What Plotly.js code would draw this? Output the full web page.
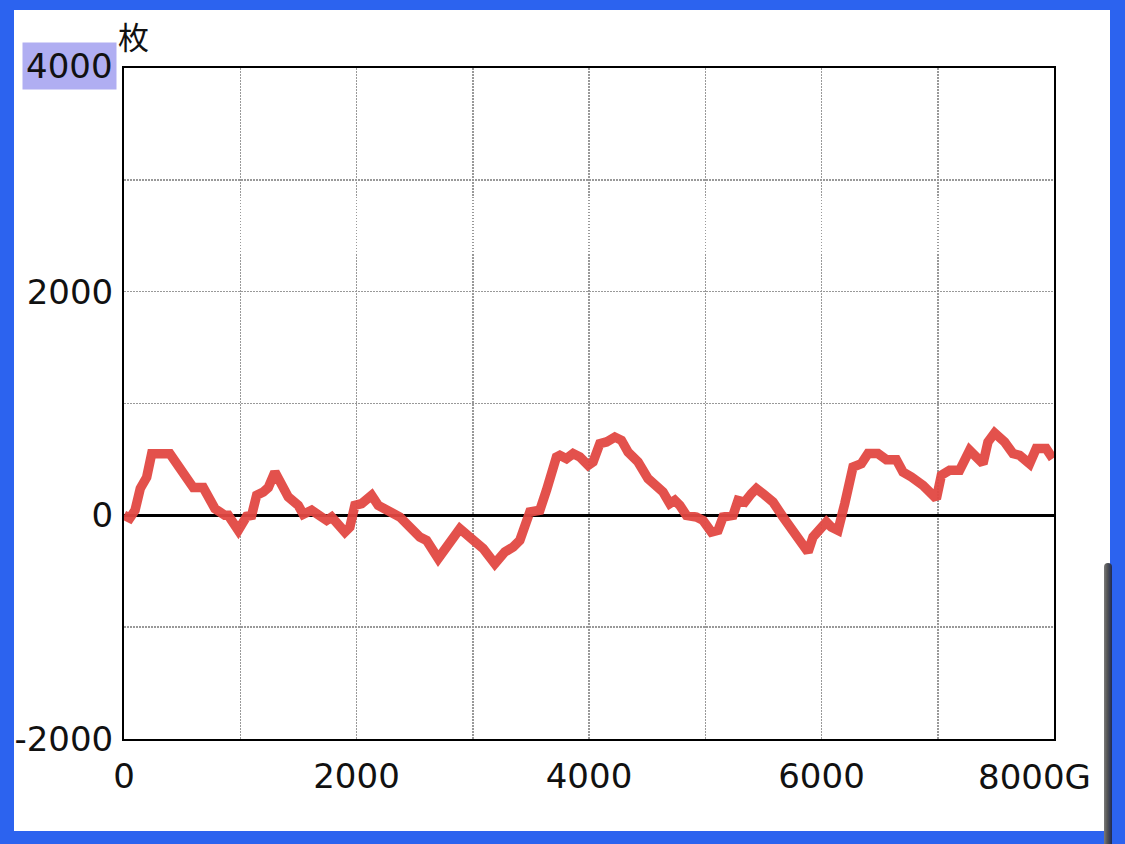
<!DOCTYPE html>
<html>
<head>
<meta charset="utf-8">
<script src="https://cdn.plot.ly/plotly-3.0.1.min.js"></script>
<style>
  html, body { margin: 0; padding: 0; width: 1125px; height: 844px; overflow: hidden; background: #2c63ef; }
  #frame { position: absolute; left: 14px; top: 10px; width: 1096px; height: 821px; background: #ffffff; overflow: hidden; }
  #chart { position: absolute; left: 0; top: 0; width: 1096px; height: 821px; }
  #scroll { position: absolute; left: 1104px; top: 563px; width: 8px; height: 290px; border-radius: 4px 4px 0 0;
            background: linear-gradient(to right, #7a7a7a 0%, #555 40%, #1e2a55 100%); }
</style>
</head>
<body>
<div id="frame"><div id="chart"></div></div>
<div id="scroll"></div>
<script>
// Cumulative difference (枚) vs games (G)
const games = [0, 50, 95, 140, 195, 238, 395, 467, 539, 596, 682, 782, 868, 897, 983, 1055, 1098, 1141, 1198, 1241,
  1298, 1356, 1413, 1499, 1542, 1614, 1685, 1743, 1786, 1829, 1900, 1943, 1986, 2044, 2130, 2187, 2273, 2373, 2545, 2603,
  2703, 2889, 2989, 3090, 3190, 3276, 3348, 3405, 3491, 3577, 3634, 3720, 3749, 3806, 3863, 3921, 3993, 4035, 4093, 4150,
  4222, 4279, 4336, 4422, 4508, 4637, 4695, 4738, 4781, 4838, 4924, 4981, 5053, 5110, 5153, 5239, 5282, 5340, 5397, 5440,
  5497, 5583, 5669, 5741, 5813, 5856, 5884, 5927, 5999, 6042, 6085, 6142, 6200, 6271, 6343, 6400, 6486, 6558, 6644, 6701,
  6773, 6873, 6988, 7031, 7102, 7188, 7274, 7389, 7432, 7489, 7575, 7647, 7704, 7790, 7847, 7933, 7990];
const coins = [0, -25, 45, 240, 340, 550, 550, 447, 358, 248, 248, 60, 0, 0, -134, -9, 0, 179, 208, 248,
  387, 268, 164, 89, 9, 45, 0, -45, -15, -74, -149, -105, 89, 105, 179, 89, 45, -15, -194, -224,
  -387, -119, -209, -298, -432, -328, -283, -224, 30, 45, 224, 522, 537, 507, 552, 522, 447, 477, 641, 656,
  700, 671, 566, 477, 328, 208, 105, 134, 89, 0, -15, -45, -149, -134, -15, 0, 134, 119, 194, 239,
  194, 119, -15, -119, -224, -268, -328, -194, -89, -60, -105, -134, 105, 432, 462, 552, 552, 498, 498, 387,
  343, 268, 149, 358, 403, 403, 581, 462, 656, 736, 656, 552, 537, 462, 597, 597, 507];

const xTickVals = [0, 1000, 2000, 3000, 4000, 5000, 6000, 7000, 8000];
const xTickText = ['0', '', '2000', '', '4000', '', '6000', '', ''];
const xLastLabel = '8000G';
const yTickVals = [-2000, -1000, 0, 1000, 2000, 3000, 4000];
const yTickText = ['-2000', '', '0', '', '2000', '', ''];
const yTopLabel = '4000';
const yUnit = '枚';

const tickFont = { family: 'DejaVu Sans, sans-serif', size: 34, color: '#111' };

const trace = {
  x: games, y: coins, type: 'scatter', mode: 'lines',
  line: { color: 'rgba(226,72,66,0.95)', width: 9.5, shape: 'linear' },
  hoverinfo: 'skip'
};

const gridDash = '1.5px,1.5px';

const layout = {
  width: 1096, height: 821,
  margin: { l: 110, r: 56, t: 58, b: 92 },
  paper_bgcolor: '#ffffff', plot_bgcolor: '#ffffff',
  showlegend: false,
  xaxis: {
    range: [0, 8000], tickvals: xTickVals, ticktext: xTickText,
    showgrid: true, gridcolor: '#999999', gridwidth: 1.5, griddash: gridDash,
    zeroline: false, showline: true, mirror: true, linecolor: '#000', linewidth: 2,
    ticks: '', tickfont: tickFont, ticklabelstandoff: 6, fixedrange: true
  },
  yaxis: {
    range: [-2000, 4000], tickvals: yTickVals, ticktext: yTickText,
    showgrid: true, gridcolor: '#999999', gridwidth: 1.5, griddash: gridDash,
    zeroline: true, zerolinecolor: '#000', zerolinewidth: 3,
    showline: true, mirror: true, linecolor: '#000', linewidth: 2,
    ticks: '', tickfont: tickFont, ticklabelstandoff: 2, fixedrange: true
  },
  annotations: [
    { xref: 'paper', yref: 'y', x: 0, y: 4000, xanchor: 'right', yanchor: 'middle', xshift: -7, yshift: 2,
      text: yTopLabel, showarrow: false, font: tickFont, bgcolor: '#b0aef2', borderpad: 3 },
    { xref: 'paper', yref: 'paper', x: 0, y: 1, xanchor: 'left', yanchor: 'bottom', xshift: -8, yshift: 8,
      text: yUnit, showarrow: false, font: { family: 'Noto Sans CJK JP', size: 31, color: '#111' } },
    { xref: 'x', yref: 'paper', x: 8000, y: 0, xanchor: 'right', yanchor: 'top', xshift: 39, yshift: -16,
      text: xLastLabel, showarrow: false, font: tickFont }
  ]
};

Plotly.newPlot('chart', [trace], layout, { staticPlot: true, displayModeBar: false });
</script>
</body>
</html>
